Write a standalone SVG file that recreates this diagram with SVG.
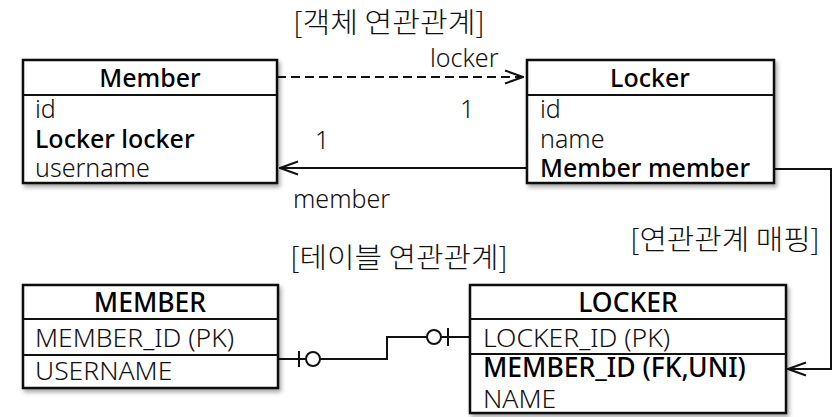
<svg xmlns="http://www.w3.org/2000/svg" width="837" height="417" viewBox="0 0 837 417">
<style>
.box{fill:#fff;stroke:#111;stroke-width:2.5}
.sep{stroke:#111;stroke-width:2}
.t{font-family:"Noto Sans","Liberation Sans",sans-serif;font-weight:300;fill:#111}
.b{font-family:"Noto Sans","Liberation Sans",sans-serif;font-weight:500;fill:#000}
.k{font-family:"Noto Sans CJK KR","Noto Sans",sans-serif;font-weight:300;font-size:28px;fill:#111}
.s25{font-size:25px}
.s27{font-size:26.5px}
.ln{fill:none;stroke:#111;stroke-width:2}
</style>
<defs>
<filter id="sh" x="-10%" y="-10%" width="125%" height="130%">
<feDropShadow dx="2" dy="3" stdDeviation="2" flood-color="#000" flood-opacity="0.35"/>
</filter>
<marker id="open" markerUnits="userSpaceOnUse" viewBox="0 0 20 16" refX="19" refY="8" markerWidth="20" markerHeight="16" orient="auto">
<path d="M1,1.5 L19,8 L1,14.5" fill="none" stroke="#111" stroke-width="2"/>
</marker>
</defs>

<text class="k" x="293" y="33" textLength="192" lengthAdjust="spacingAndGlyphs">[객체 연관관계]</text>
<text class="k" x="290" y="268" textLength="218" lengthAdjust="spacingAndGlyphs">[테이블 연관관계]</text>
<text class="k" x="630" y="250" textLength="190" lengthAdjust="spacingAndGlyphs">[연관관계 매핑]</text>

<g id="connectors">
<path class="ln" d="M277,77 H523" stroke-dasharray="9 5" marker-end="url(#open)"/>
<path class="ln" d="M527,168 H280" marker-end="url(#open)"/>
<path class="ln" d="M773,169 H831 V369 H788" marker-end="url(#open)"/>
<path class="ln" d="M277,359 H387 V337 H469"/>
<line class="ln" x1="299" y1="351" x2="299" y2="367"/>
<circle cx="313" cy="359" r="7" fill="#fff" stroke="#111" stroke-width="2"/>
<circle cx="434" cy="337" r="7" fill="#fff" stroke="#111" stroke-width="2"/>
<line class="ln" x1="448" y1="328" x2="448" y2="346"/>
<text class="t s25" x="430" y="67">locker</text>
<text class="t s25" x="460" y="118">1</text>
<text class="t s25" x="315" y="149">1</text>
<text class="t s25" x="293" y="208">member</text>
</g>

<g id="member-class">
<rect class="box" x="23" y="60" width="254" height="123" filter="url(#sh)"/>
<line class="sep" x1="23" y1="95" x2="277" y2="95"/>
<text class="b s25" x="150" y="87" text-anchor="middle">Member</text>
<text class="t s25" x="35" y="118">id</text>
<text class="b s25" x="35" y="148">Locker locker</text>
<text class="t s25" x="35" y="177">username</text>
</g>

<g id="locker-class">
<rect class="box" x="527" y="60" width="247" height="123" filter="url(#sh)"/>
<line class="sep" x1="527" y1="95" x2="774" y2="95"/>
<text class="b s25" x="650" y="87" text-anchor="middle">Locker</text>
<text class="t s25" x="540" y="118">id</text>
<text class="t s25" x="540" y="148">name</text>
<text class="b s25" x="540" y="177">Member member</text>
</g>

<g id="member-table">
<rect class="box" x="23" y="285" width="255" height="103" filter="url(#sh)"/>
<line class="sep" x1="23" y1="319" x2="278" y2="319"/>
<line class="sep" x1="23" y1="355" x2="278" y2="355"/>
<text class="b s27" x="150" y="312" text-anchor="middle">MEMBER</text>
<text class="t s27" x="35" y="347">MEMBER_ID (PK)</text>
<text class="t s27" x="35" y="380">USERNAME</text>
</g>

<g id="locker-table">
<rect class="box" x="470" y="285" width="316" height="128" filter="url(#sh)"/>
<line class="sep" x1="470" y1="319" x2="786" y2="319"/>
<line class="sep" x1="470" y1="354" x2="786" y2="354"/>
<text class="b s27" x="628" y="312" text-anchor="middle">LOCKER</text>
<text class="t s27" x="483" y="347">LOCKER_ID (PK)</text>
<text class="b s27" x="483" y="377">MEMBER_ID (FK,UNI)</text>
<text class="t s27" x="483" y="408">NAME</text>
</g>
</svg>
